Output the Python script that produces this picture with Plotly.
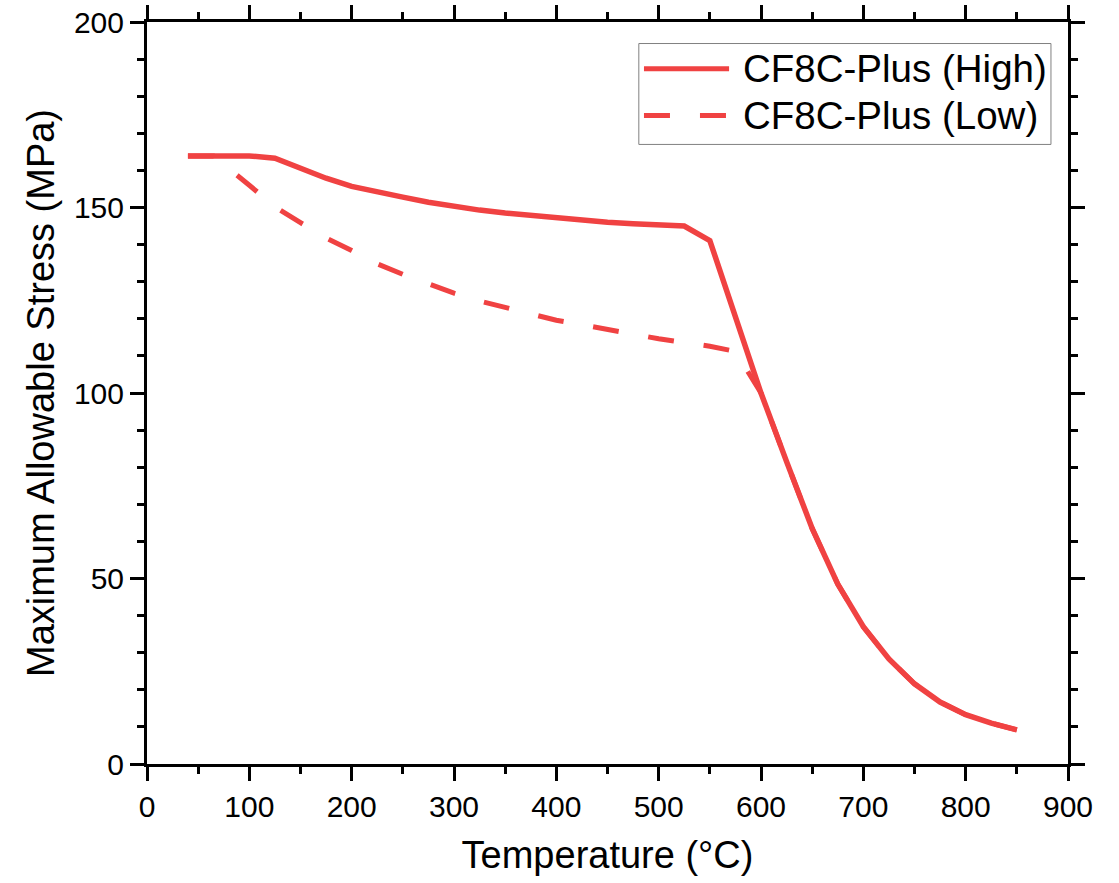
import plotly.graph_objects as go

# ---- data ----
temp_high = [40, 100, 125, 150, 175, 200, 225, 250, 275, 300, 325, 350, 375, 400,
             425, 450, 475, 500, 525, 550, 575, 600, 625, 650, 675, 700, 725, 750,
             775, 800, 825, 850]
stress_high = [163.9, 163.9, 163.3, 160.5, 157.9, 155.7, 154.1, 152.8, 151.4, 150.3,
               149.3, 148.5, 147.8, 147.2, 146.6, 146.0, 145.6, 145.3, 145.0, 141.1,
               120.0, 100.0, 81.5, 63.5, 48.5, 37.0, 28.3, 21.6, 16.7, 13.3, 11.0, 9.2]

temp_low = [40, 65, 100, 125, 150, 175, 200, 225, 250, 275, 300, 325, 350, 375, 400,
            425, 450, 475, 500, 525, 550, 575, 600, 625, 650, 675, 700, 725, 750,
            775, 800, 825, 850]
stress_low = [163.9, 163.9, 156.0, 150.2, 145.9, 141.8, 138.4, 134.8, 132.0, 129.3,
              126.9, 124.8, 123.1, 121.3, 119.6, 118.4, 117.1, 115.9, 114.6, 113.6,
              112.6, 111.2, 100.0, 81.5, 63.5, 48.5, 37.0, 28.3, 21.6, 16.7, 13.3,
              11.0, 9.2]

name_high = "CF8C-Plus (High)"
name_low = "CF8C-Plus (Low)"
x_title = "Temperature (°C)"
y_title = "Maximum Allowable Stress (MPa)"

RED = "#F04242"
FONT = "Arial, Liberation Sans, sans-serif"
DASH = "26px,30px"

fig = go.Figure()
fig.add_trace(go.Scatter(x=temp_low, y=stress_low, mode="lines", name=name_low,
                         line=dict(color=RED, width=5, dash=DASH), showlegend=False))
fig.add_trace(go.Scatter(x=temp_high, y=stress_high, mode="lines", name=name_high,
                         line=dict(color=RED, width=5.5), showlegend=False))

axis_common = dict(
    showgrid=False, zeroline=False, showline=True, linecolor="black", linewidth=3,
    mirror="allticks", ticks="outside", ticklen=14, tickwidth=3, tickcolor="black",
    tickfont=dict(family=FONT, size=30, color="black"), automargin=False,
)

fig.update_xaxes(range=[0, 900], dtick=100, tick0=0,
                 minor=dict(dtick=50, ticks="outside", ticklen=7, tickwidth=3,
                            tickcolor="black"),
                 title=dict(text=x_title, font=dict(family=FONT, size=38, color="black"),
                            standoff=20),
                 **axis_common)
fig.update_yaxes(range=[0, 200], dtick=50, tick0=0,
                 minor=dict(dtick=10, ticks="outside", ticklen=7, tickwidth=3,
                            tickcolor="black"),
                 title=dict(text=y_title, font=dict(family=FONT, size=38, color="black"),
                            standoff=8),
                 **axis_common)

# ---- legend drawn in paper coordinates ----
fig.add_shape(type="rect", xref="paper", yref="paper", x0=0.534, x1=0.9815,
              y0=0.835, y1=0.971, line=dict(color="#808080", width=1),
              fillcolor="white", layer="above")
for yy, dash in ((0.937, "solid"), (0.874, DASH)):
    fig.add_shape(type="line", xref="paper", yref="paper", x0=0.5396, x1=0.632,
                  y0=yy, y1=yy, line=dict(color=RED, width=5, dash=dash), layer="above")
for yy, txt in ((0.937, name_high), (0.874, name_low)):
    fig.add_annotation(xref="paper", yref="paper", x=0.645, y=yy, text=txt,
                       showarrow=False, xanchor="left", yanchor="middle",
                       font=dict(family=FONT, size=38.5, color="black"))

fig.update_layout(
    width=1119, height=883,
    margin=dict(l=147, r=51, t=22, b=119),
    paper_bgcolor="white", plot_bgcolor="white",
    font=dict(family=FONT, color="black"),
)

fig.write_html("out.html")
